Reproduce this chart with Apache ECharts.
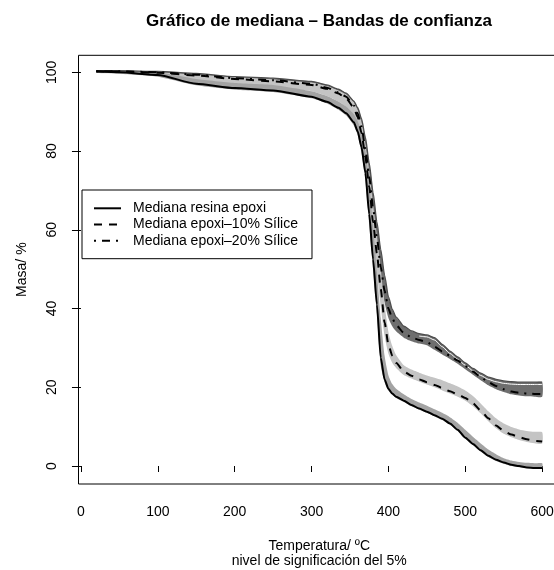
<!DOCTYPE html>
<html><head><meta charset="utf-8">
<script src="https://cdn.jsdelivr.net/npm/echarts@6/dist/echarts.min.js"></script>
<style>html,body{margin:0;padding:0;background:#fff}#c{width:554px;height:570px}</style>
</head><body><div id="c"></div>
<script>
const temps = [20,50,100,150,200,250,300,320,335,345,355,360,365,370,375,380,385,390,395,400,405,410,420,430,440,450,460,470,480,490,500,510,520,530,540,550,560,570,580,590,600];

const resinMedian = [100.2,100.0,99.3,97.1,96.0,95.4,93.8,92.5,91.0,89.6,87.3,85.0,81.0,74.5,64.0,52.5,41.0,27.5,22.0,19.6,18.4,17.6,16.6,15.5,14.6,13.8,12.9,12.0,10.8,9.2,7.2,5.6,4.0,2.6,1.6,0.9,0.3,0.0,-0.4,-0.5,-0.5];
const resinLo = [100.0,99.7,98.9,96.7,95.6,95.0,93.4,92.1,90.5,89.0,86.5,84.0,79.5,72.5,61.5,50.0,38.5,25.5,21.3,19.2,18.1,17.3,16.3,15.2,14.3,13.5,12.6,11.7,10.5,8.9,6.9,5.3,3.7,2.3,1.3,0.6,0.0,-0.3,-0.5,-0.5,-0.5];
const resinHi = [100.3,100.3,100.0,98.3,97.3,96.8,95.2,94.0,92.6,91.3,89.3,87.6,85.0,80.0,72.0,61.0,49.5,37.5,28.0,23.0,20.8,19.6,18.2,17.0,16.1,15.3,14.4,13.5,12.4,11.0,9.2,7.4,5.7,4.2,3.0,2.0,1.4,1.0,0.8,0.7,0.7];

const tenMedian = [100.25,100.2,99.9,99.2,98.3,97.7,96.8,95.8,94.6,93.4,91.0,88.6,84.6,78.5,71.0,62.0,54.0,45.0,36.5,30.8,28.0,26.2,24.0,22.9,22.0,21.3,20.6,19.8,19.0,18.2,17.3,15.9,14.1,12.1,10.3,8.9,8.0,7.3,6.8,6.4,6.2];
const tenLo = [99.8,99.6,99.0,97.9,96.9,96.3,95.2,94.0,92.6,91.2,88.5,85.8,81.0,74.5,66.5,57.0,49.0,40.5,33.0,28.5,26.2,24.9,23.1,22.2,21.4,20.7,20.0,19.2,18.4,17.6,16.6,15.2,13.4,11.4,9.6,8.2,7.3,6.6,6.1,5.8,5.7];
const tenHi = [100.3,100.3,100.1,99.6,98.8,98.2,97.4,96.5,95.4,94.4,92.4,90.5,87.4,82.0,75.0,66.5,58.5,50.0,41.0,34.0,30.5,28.2,25.6,24.5,23.7,23.0,22.4,21.8,21.0,20.2,19.2,17.8,15.9,13.9,12.1,10.8,9.9,9.3,8.9,8.7,8.6];

const twentyMedian = [100.27,100.25,100.0,99.4,98.5,98.0,97.1,96.1,94.9,93.8,91.6,89.6,86.2,80.5,73.5,65.5,58.0,50.5,44.5,40.0,37.5,35.8,33.8,32.7,32.0,31.5,30.3,29.1,28.0,26.8,25.4,24.0,22.6,21.3,20.3,19.5,18.9,18.6,18.4,18.3,18.3];
const twentyLo = [100.0,99.9,99.6,98.9,98.0,97.4,96.5,95.5,94.2,93.0,90.6,88.2,84.2,78.0,70.5,62.0,54.5,47.0,41.5,37.6,35.5,34.2,32.6,31.7,31.1,30.7,29.5,28.3,27.2,26.0,24.6,23.2,21.8,20.5,19.5,18.8,18.2,17.9,17.7,17.6,17.6];
const twentyHi = [100.4,100.4,100.2,99.7,98.9,98.5,97.7,96.8,95.7,94.7,92.7,91.0,88.2,83.5,77.0,69.5,62.0,55.0,48.5,43.0,39.8,37.8,35.5,34.3,33.6,33.3,32.6,30.9,29.2,27.7,26.2,24.8,23.6,22.6,22.0,21.6,21.4,21.3,21.3,21.3,21.3];

const twentyGapTemps = [440,450,460,470,480,490,500,510,520,530,540,550,560,570,580,590,600];
const twentyGap = [33.0,32.8,32.0,30.3,28.6,27.1,25.6,24.2,23.0,22.0,21.4,21.0,20.8,20.7,20.7,20.7,20.7];

const xTicks = [0,100,200,300,400,500,600];
const yTicks = [0,20,40,60,80,100];
const seriesNames = ['Mediana resina epoxi','Mediana epoxi\u201310% S\u00edlice','Mediana epoxi\u201320% S\u00edlice'];

const FONT = '"Liberation Sans", Arial, Helvetica, sans-serif';

function pairs(xs, ys){ return xs.map((t,i)=>[t, ys[i]]); }

function bandSeries(name, lo, hi, color){
  const rows = temps.map((t,i)=>[t, lo[i], hi[i]]);
  return {
    type:'custom', name: name, z: 1, silent: true,
    data: rows,
    encode: {x: 0, y: [1, 2]},
    renderItem: function(params, api){
      if (params.dataIndex !== 0) return null;
      const top = rows.map(r => api.coord([r[0], r[2]]));
      const bottom = rows.map(r => api.coord([r[0], r[1]])).reverse();
      return { type:'polygon', shape:{points: top.concat(bottom), smooth: 0.2},
               style:{fill: color, stroke: null} };
    }
  };
}

function medianSeries(name, ys, dash){
  return {
    type:'line', name: name, z: 3, data: pairs(temps, ys),
    symbol:'none', showSymbol:false, smooth:0.2, smoothMonotone:'x',
    lineStyle:{color:'#000', width:2, type: dash},
    itemStyle:{color:'#000'},
    silent:true, animation:false
  };
}

const chart = echarts.init(document.getElementById('c'), null, {renderer:'canvas'});
chart.setOption({
  animation:false,
  backgroundColor:'#fff',
  textStyle:{fontFamily: FONT},
  title:{
    text:'Gr\u00e1fico de mediana \u2013 Bandas de confianza',
    left: 319, top: 11, padding: 0, textAlign:'center',
    textStyle:{fontFamily: FONT, fontSize:17, fontWeight:'bold', color:'#000', lineHeight:20}
  },
  grid:{left:78.5, top:55.3, width:481.5, height:428.7, show:true, borderColor:'#000', borderWidth:1,
        backgroundColor:'transparent', containLabel:false, outerBoundsMode:'none'},
  legend:{
    orient:'vertical', left:82, top:190, align:'left',
    padding:[10.3,14,10,11], itemGap:0.2, itemWidth:27, itemHeight:10,
    backgroundColor:'#fff', borderColor:'#000', borderWidth:1, borderRadius:0,
    selectedMode:false,
    itemStyle:{opacity:0},
    data: seriesNames,
    textStyle:{fontFamily: FONT, fontSize:14, lineHeight:16, color:'#000', padding:[0,0,0,7]}
  },
  xAxis:{
    type:'value', min:-3.2, max:623.2, offset:3,
    axisLine:{show:false},
    axisTick:{show:true, length:6, customValues:xTicks, lineStyle:{color:'#000', width:1}},
    axisLabel:{customValues:xTicks, margin:18.5, fontFamily:FONT, fontSize:14, lineHeight:14, color:'#000'},
    splitLine:{show:false},
    name:'Temperatura/ \u00baC\nnivel de significaci\u00f3n del 5%',
    nameLocation:'middle', nameGap:51.5,
    nameTextStyle:{fontFamily:FONT, fontSize:14, lineHeight:15, color:'#000'}
  },
  yAxis:{
    type:'value', min:-4.57, max:104.32,
    axisLine:{show:false},
    axisTick:{show:true, length:9, customValues:yTicks, lineStyle:{color:'#000', width:1}},
    axisLabel:{customValues:yTicks, rotate:90, margin:19, fontFamily:FONT, fontSize:14, lineHeight:14, color:'#000'},
    splitLine:{show:false},
    name:'Masa/ %', nameLocation:'middle', nameGap:49.5,
    nameTextStyle:{fontFamily:FONT, fontSize:14, lineHeight:14, color:'#000'}
  },
  series:[
    bandSeries('Banda epoxi-20%', twentyLo, twentyHi, '#6e6e6e'),
    bandSeries('Banda epoxi-10%', tenLo, tenHi, '#c4c4c4'),
    bandSeries('Banda resina', resinLo, resinHi, '#a3a3a3'),
    {type:'line', name:'Borde banda 20%', z:2, data: pairs(temps, twentyHi), symbol:'none', smooth:0.2, smoothMonotone:'x',
     lineStyle:{color:'#4d4d4d', width:1.3}, silent:true},
    {type:'line', name:'Hueco banda 20%', z:2, data: pairs(twentyGapTemps, twentyGap), symbol:'none', smooth:0.2, smoothMonotone:'x',
     lineStyle:{color:'#ffffff', width:1}, silent:true},
    medianSeries(seriesNames[0], resinMedian, 'solid'),
    medianSeries(seriesNames[1], tenMedian, [8,7]),
    medianSeries(seriesNames[2], twentyMedian, [2,6,8,6])
  ]
});
</script></body></html>
